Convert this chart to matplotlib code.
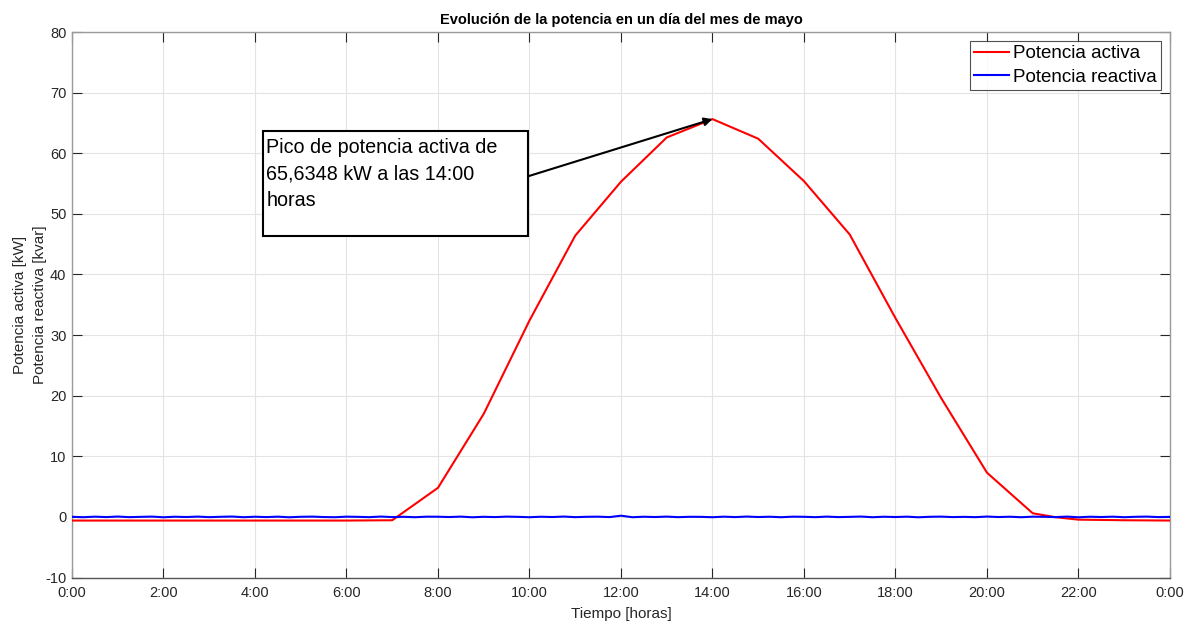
import matplotlib
matplotlib.use("Agg")
import matplotlib.pyplot as plt
from matplotlib.patches import Rectangle
import numpy as np

plt.rcParams['font.family'] = ['Liberation Sans', 'DejaVu Sans']
plt.rcParams['axes.unicode_minus'] = False

# Active power (kW), hourly samples (plus one half-hour point)
hours_active = [0, 1, 2, 3, 4, 5, 6, 7, 8, 9, 10, 11, 12, 13, 14, 15, 16,
                17, 18, 19, 20, 21, 21.5, 22, 23, 24]
p_active = [-0.6, -0.6, -0.6, -0.6, -0.6, -0.6, -0.6, -0.55, 4.8, 17.0, 32.4,
            46.4, 55.3, 62.6, 65.6348, 62.4, 55.4, 46.6, 32.8, 19.6, 7.3,
            0.6, -0.05, -0.45, -0.55, -0.6]

# Reactive power (kvar), 15-minute samples
hours_reactive = [i * 0.25 for i in range(97)]
q_reactive = [0.02, -0.05, 0.04, -0.03, 0.06, -0.04, 0.01, 0.05, -0.06, 0.03,
              -0.02, 0.05, -0.04, 0.02, 0.06, -0.05, 0.03, -0.03, 0.04, -0.06,
              0.02, 0.05, -0.02, -0.05, 0.04, 0.01, -0.04, 0.06, -0.03, 0.02,
              -0.05, 0.04, 0.03, -0.02, 0.05, -0.06, 0.02, -0.03, 0.05, 0.01,
              -0.05, 0.03, -0.02, 0.06, -0.04, 0.02, 0.04, -0.03, 0.20, -0.05,
              0.03, -0.02, 0.05, -0.04, 0.02, 0.01, -0.05, 0.04, -0.03, 0.06,
              -0.02, 0.03, -0.05, 0.04, 0.02, -0.04, 0.05, -0.03, 0.01, 0.06,
              -0.05, 0.03, -0.02, 0.04, -0.06, 0.02, 0.05, -0.03, 0.01, -0.04,
              0.06, -0.02, 0.03, -0.05, 0.04, 0.02, -0.03, 0.05, -0.06, 0.03,
              -0.02, 0.04, -0.05, 0.02, 0.05, -0.03, 0.01]

xticks = list(range(0, 25, 2))
xticklabels = ['0:00', '2:00', '4:00', '6:00', '8:00', '10:00', '12:00',
               '14:00', '16:00', '18:00', '20:00', '22:00', '0:00']
yticks = list(range(-10, 81, 10))

fig = plt.figure(figsize=(11.88, 6.23), dpi=100)
ax = fig.add_axes([0.0606, 0.0730, 0.9242, 0.8756])

ax.plot(hours_active, p_active, color='#ff0000', lw=1.5, label='Potencia activa', zorder=3)
ax.plot(hours_reactive, q_reactive, color='#0000ff', lw=1.5, label='Potencia reactiva', zorder=3)

ax.set_xlim(0, 24)
ax.set_ylim(-10, 80)
ax.set_xticks(xticks)
ax.set_xticklabels(xticklabels)
ax.set_yticks(yticks)
ax.grid(True, color='#e3e3e3', lw=0.8)
ax.set_axisbelow(True)
ax.tick_params(direction='in', length=7, width=0.8, top=True, right=True,
               labelsize=10.5, colors='#262626')
ax.tick_params(axis='x', pad=6)
ax.tick_params(axis='y', pad=4)
for side in ['left', 'top', 'right']:
    ax.spines[side].set_color('#9a9a9a')
ax.spines['bottom'].set_color('#555555')
for s in ax.spines.values():
    s.set_linewidth(1.0)

ax.set_title('Evolución de la potencia en un día del mes de mayo',
             fontsize=10.5, fontweight='bold', pad=6, color='#000000')
ax.set_xlabel('Tiempo [horas]', fontsize=11, color='#262626', labelpad=5)
ax.set_ylabel('Potencia activa [kW]\nPotencia reactiva [kvar]', fontsize=11,
              color='#262626', labelpad=-1, linespacing=1.55)

leg = ax.legend(loc='upper right', fontsize=13.5, frameon=True, fancybox=False,
                borderpad=0.2, handlelength=1.9, handletextpad=0.2,
                labelspacing=0.35, borderaxespad=0.5, edgecolor='#262626')
leg.get_frame().set_linewidth(0.8)

# Annotation box and arrow
peak_i = int(np.argmax(p_active))
peak_x, peak_y = hours_active[peak_i], p_active[peak_i]
box = Rectangle((4.17, 46.3), 9.97 - 4.17, 63.7 - 46.3, fill=True,
                facecolor='white', edgecolor='black', lw=1.5, zorder=4)
ax.add_patch(box)
ax.text(4.25, 62.5, 'Pico de potencia activa de\n65,6348 kW a las 14:00\nhoras',
        fontsize=14.2, va='top', ha='left', zorder=5, linespacing=1.5)
ax.annotate('', xy=(peak_x, peak_y), xytext=(9.97, 56.2),
            arrowprops=dict(arrowstyle='-|>', color='black', lw=1.5,
                            mutation_scale=12, shrinkA=0, shrinkB=0), zorder=5)

fig.savefig('out.png', dpi=100, facecolor='white')
